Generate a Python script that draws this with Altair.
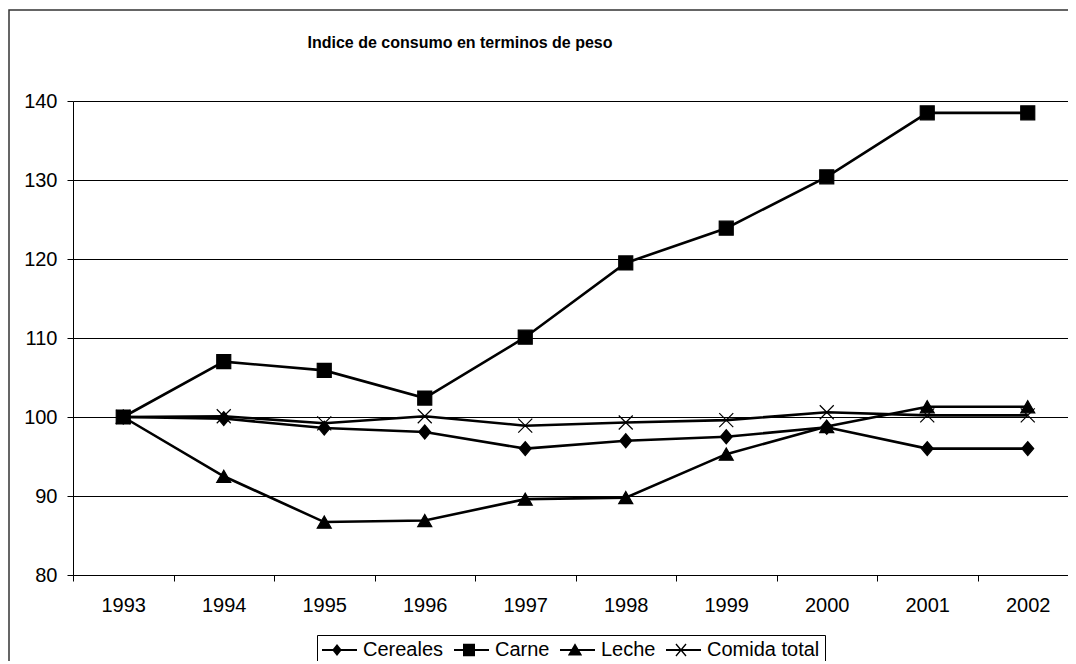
import altair as alt
import pandas as pd

title_text = "Indice de consumo en terminos de peso"
years = ["1993", "1994", "1995", "1996", "1997", "1998", "1999", "2000", "2001", "2002"]
series_names = ["Cereales", "Carne", "Leche", "Comida total"]
cereales = [100.0, 99.8, 98.6, 98.1, 96.0, 97.0, 97.5, 98.7, 96.0, 96.0]
carne = [100.0, 107.0, 105.9, 102.4, 110.1, 119.5, 123.9, 130.4, 138.5, 138.5]
leche = [100.0, 92.5, 86.7, 86.9, 89.6, 89.8, 95.3, 98.8, 101.3, 101.3]
comida_total = [100.0, 100.1, 99.2, 100.1, 98.9, 99.3, 99.6, 100.6, 100.2, 100.2]
y_ticks = [80, 90, 100, 110, 120, 130, 140]

rows = []
for name, vals in zip(series_names, [cereales, carne, leche, comida_total]):
    for yr, v in zip(years, vals):
        rows.append({"anio": yr, "serie": name, "valor": v})
df = pd.DataFrame(rows)

FONT = "Liberation Sans"
W, H = 995, 474

# marker shapes used on the lines
chart_shapes = [
    "M0,-1L0.85,0L0,1L-0.85,0Z",
    "square",
    "triangle-up",
    "M-1,-1L1,1M-1,1L1,-1",
]
chart_sizes = [196, 196, 256, 289]

# legend symbols: filled line stub + filled marker (no stroke needed)
STUB = "M-1.0,-0.11L2.5,-0.11L2.5,0.11L-1.0,0.11Z"
legend_shapes = [
    STUB + "M0.5,-0.6L0.98,0L0.5,0.6L0.02,0Z",
    STUB + "M-0.1,-0.62L1.1,-0.62L1.1,0.62L-0.1,0.62Z",
    STUB + "M0.5,-0.68L1.22,0.56L-0.22,0.56Z",
    STUB
    + "M0.047,-0.647L1.053,0.553L0.947,0.647L-0.053,-0.553Z"
    + "M-0.053,0.553L0.947,-0.647L1.053,-0.553L0.047,0.647Z",
]

x_enc = alt.X(
    "anio:O",
    scale=alt.Scale(type="band", domain=years, range=[0, 1005], paddingInner=0, paddingOuter=0),
    axis=alt.Axis(
        title=None, tickBand="extent", labelAngle=0, tickSize=6, labelPadding=14,
        labelFontSize=20, labelFont=FONT, labelColor="black",
        domainColor="black", tickColor="black", grid=False,
    ),
)
y_enc = alt.Y(
    "valor:Q",
    scale=alt.Scale(domain=[80, 140], nice=False, zero=False),
    axis=alt.Axis(
        title=None, values=y_ticks, tickSize=6, labelPadding=10,
        labelFontSize=20, labelFont=FONT, labelColor="black",
        domainColor="black", tickColor="black",
        grid=True, gridColor="black", gridWidth=1,
    ),
)

base = alt.Chart(df)

lines = base.mark_line(color="black", strokeWidth=2.6).encode(
    x=x_enc, y=y_enc, detail="serie:N"
)

points = base.mark_point(
    filled=True, fill="black", stroke="black", strokeWidth=1.2, opacity=1
).encode(
    x=x_enc,
    y=y_enc,
    shape=alt.Shape("serie:N", scale=alt.Scale(domain=series_names, range=chart_shapes), legend=None),
    size=alt.Size("serie:O", scale=alt.Scale(domain=series_names, range=chart_sizes), legend=None),
)

legend_layer = base.mark_point(
    filled=True, fill="black", size=400, opacity=1
).encode(
    x=x_enc,
    y=y_enc,
    shape=alt.Shape(
        "serie:N",
        scale=alt.Scale(domain=series_names, range=legend_shapes),
        legend=alt.Legend(
            title=None, orient="none", legendX=244, legendY=534,
            direction="horizontal", columns=4,
            symbolSize=400, symbolStrokeWidth=0,
            symbolFillColor="black",
            labelFont=FONT, labelFontSize=20, labelColor="black",
            labelOffset=21, columnPadding=10, padding=5,
            strokeColor="black", fillColor="white",
        ),
    ),
).transform_filter("datum.valor < 0")

title_df = pd.DataFrame({"t": [title_text]})
title_mark = alt.Chart(title_df).mark_text(
    font=FONT, fontSize=16, fontWeight="bold", color="black",
    align="center", baseline="alphabetic",
).encode(text="t:N", x=alt.value(387), y=alt.value(-53))

border_df = pd.DataFrame({"b": [0]})
border = alt.Chart(border_df).mark_rect(
    fill="transparent", stroke="#333333", strokeWidth=1.5
).encode(x=alt.value(-64), x2=alt.value(1200), y=alt.value(-91), y2=alt.value(800))

chart = alt.layer(border, title_mark, lines, points, legend_layer).resolve_scale(
    shape="independent"
).properties(
    width=W, height=H,
    autosize=alt.AutoSizeParams(type="none"),
    padding={"left": 65, "top": 93, "right": 0, "bottom": 86},
    background="white",
).configure_view(stroke=None)

chart.save("out.html", embed_options={"renderer": "svg", "actions": False})
